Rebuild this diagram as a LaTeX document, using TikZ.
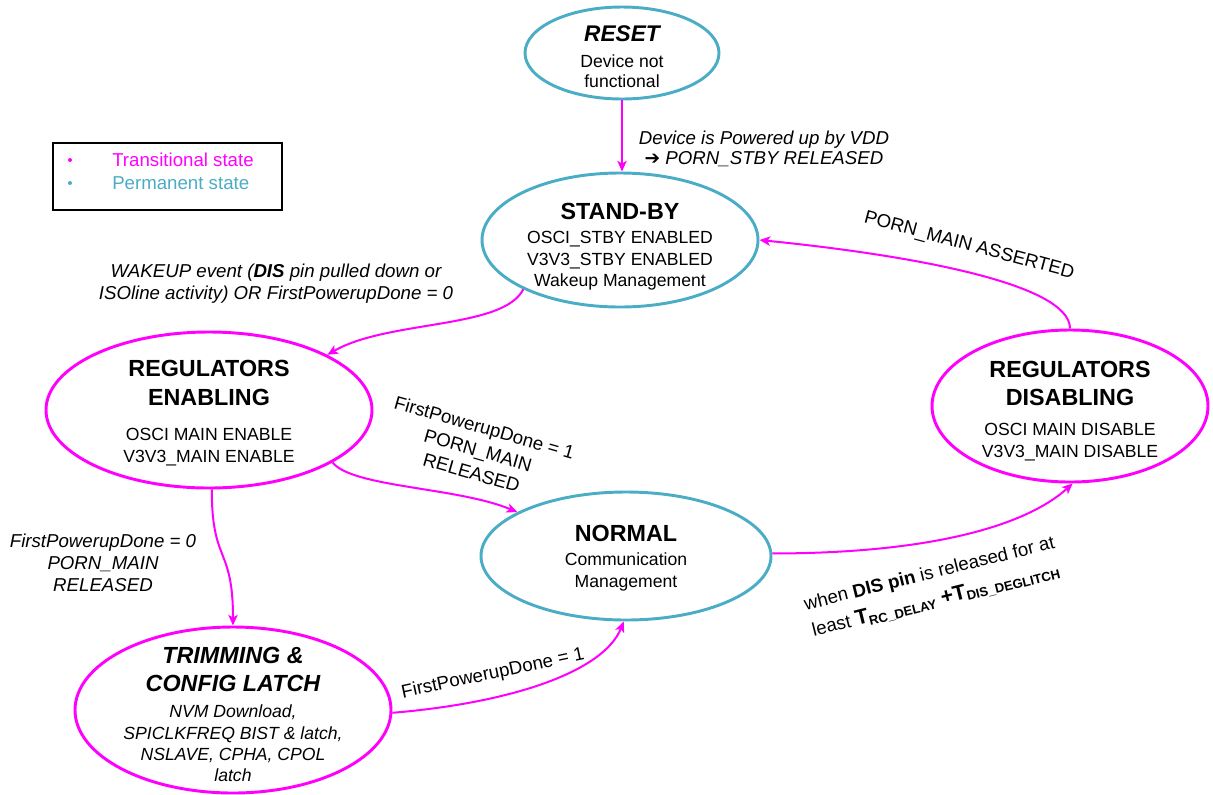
\documentclass[tikz,border=0pt]{standalone}
\usepackage{fontspec}
\setmainfont{Liberation Sans}
\newfontfamily\dejavu{DejaVu Sans}
\usetikzlibrary{shapes.geometric,arrows.meta}
\definecolor{mag}{HTML}{FF00FF}
\definecolor{sky}{HTML}{4BACC6}
\newcommand\sttl[1]{{\bfseries\fontsize{17.5}{21}\selectfont #1}}
\newcommand\ittl[1]{{\bfseries\itshape\fontsize{17.5}{21}\selectfont #1}}
\begin{document}
\begin{tikzpicture}[x=0.75pt,y=-0.75pt,
  ell/.style={ellipse,line width=2.2pt,inner sep=0pt},
  perm/.style={ell,draw=sky},
  trans/.style={ell,draw=mag},
  txt/.style={align=center,font=\fontsize{13.2}{16.5}\selectfont,inner sep=0pt},
  lbl/.style={align=center,font=\fontsize{14}{16.5}\selectfont\itshape,inner sep=0pt},
  ulbl/.style={align=center,font=\fontsize{14}{16.5}\selectfont,inner sep=0pt},
  arr/.style={draw=mag,line width=1.5pt,-{Stealth[length=8pt,width=7pt,inset=2pt]}}]
\useasboundingbox (0,0) rectangle (1213,794);
% legend
\node[draw=black,line width=2.2pt,minimum width=171.75pt,minimum height=50.25pt,inner sep=0pt] (leg) at (167.5,176.5) {};
\fill[mag] (70,160) circle (1.5pt);
\fill[sky] (70,183) circle (1.5pt);
\node[txt,font=\fontsize{14}{16.5}\selectfont,anchor=west,text=mag] (legt) at (112,160) {Transitional state};
\node[txt,font=\fontsize{14}{16.5}\selectfont,anchor=west,text=sky] (legp) at (112,183) {Permanent state};
% states
\node[perm,minimum width=145.5pt,minimum height=69pt] (rst) at (622,53) {};
\node[txt] (rstt) at (622,57) {{\bfseries\itshape\fontsize{17}{20}\selectfont RESET}\\[3pt]Device not\\[-1.5pt]functional};
\node[perm,minimum width=207pt,minimum height=100.5pt] (stb) at (620,240) {};
\node[txt] (stbt) at (620,247) {\sttl{STAND-BY}\\[1.5pt]OSCI\_STBY ENABLED\\V3V3\_STBY ENABLED\\[-0.5pt]Wakeup Management};
\node[trans,minimum width=244.5pt,minimum height=117pt] (ren) at (209,410) {};
\node[txt] (rent) at (209,413) {\sttl{REGULATORS}\\[5pt]\sttl{ENABLING}\\[10pt]OSCI MAIN ENABLE\\V3V3\_MAIN ENABLE};
\node[trans,minimum width=207pt,minimum height=114pt] (rdi) at (1070,406) {};
\node[txt] (rdit) at (1070,411) {\sttl{REGULATORS}\\[4.5pt]\sttl{DISABLING}\\[6pt]OSCI MAIN DISABLE\\[0.5pt]V3V3\_MAIN DISABLE};
\node[perm,minimum width=217.5pt,minimum height=96pt] (nor) at (626,556) {};
\node[txt] (nort) at (626,558) {\sttl{NORMAL}\\[2pt]Communication\\Management};
\node[trans,minimum width=237pt,minimum height=124.5pt] (trm) at (233,710) {};
\node[txt] (trmt) at (233,714) {\ittl{TRIMMING \&}\\[4.5pt]\ittl{CONFIG LATCH}\\[3pt]\itshape NVM Download,\\\itshape SPICLKFREQ BIST \& latch,\\[-0.5pt]\itshape NSLAVE, CPHA, CPOL\\[-1pt]\itshape latch};
% transitions
\draw[arr] (rst.south) -- (rst.south |- stb.north);
\node[lbl] (l1) at (764,149) {Device is Powered up by VDD\\[-1pt]{\dejavu\upshape ➔} PORN\_STBY RELEASED};
\draw[arr] (stb.207) .. controls +(-20,40) and +(60,-35) .. (ren.25);
\node[lbl] (l2) at (276,284) {WAKEUP event (\textbf{DIS} pin pulled down or\\ISOline activity) OR FirstPowerupDone = 0};
\draw[arr] (ren.-23) .. controls +(20,25) and +(-60,-25) .. (nor.158);
\node[ulbl,rotate=-16] (l3) at (478,450) {FirstPowerupDone = 1\\[1pt]PORN\_MAIN\\[1pt]RELEASED};
\draw[arr] (ren.-88) .. controls +(0,75) and +(0,-80) .. (trm.90);
\node[lbl] (l4) at (103,563) {FirstPowerupDone = 0\\PORN\_MAIN\\RELEASED};
\draw[arr] (trm.-1) .. controls +(120,-10) and +(-20,50) .. (nor.-92);
\node[ulbl,rotate=12] (l5) at (493,674) {FirstPowerupDone = 1};
\draw[arr] (nor.1) .. controls +(150,0) and +(-50,45) .. (rdi.-88);
\node[ulbl,rotate=14] (l6) at (933,588) {when \textbf{DIS pin} is released for at\\[4pt]least {\bfseries\fontsize{16}{18}\selectfont T}\textbf{\textsubscript{RC\_DELAY}} {\bfseries\fontsize{16}{18}\selectfont +T}\textbf{\textsubscript{DIS\_DEGLITCH}}};
\draw[arr] (rdi.90) .. controls +(0,-45) and +(150,15) .. (stb.0);
\node[ulbl,rotate=-15] (l7) at (969,246) {PORN\_MAIN ASSERTED};
\end{tikzpicture}
\end{document}
